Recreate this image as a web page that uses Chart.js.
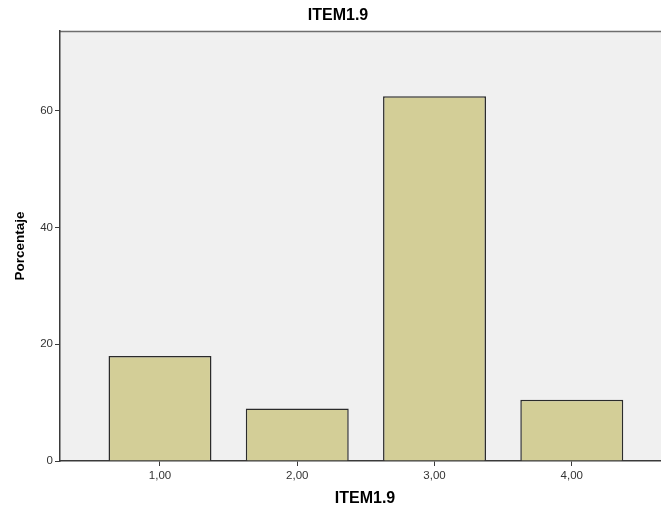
<!DOCTYPE html>
<html>
<head>
<meta charset="utf-8">
<script src="https://cdn.jsdelivr.net/npm/chart.js@4/dist/chart.umd.min.js"></script>
<style>
  html, body { margin: 0; padding: 0; background: #fff; }
  #wrap { width: 661px; height: 511px; }
</style>
</head>
<body>
<div id="wrap"><canvas id="chart" width="661" height="511"></canvas></div>
<script>
// categorias y porcentajes
var categories = [1, 2, 3, 4];
var tickLabels = ['1,00', '2,00', '3,00', '4,00'];
var percentages = [18.0, 9.0, 62.5, 10.5];
var yTicks = [0, 20, 40, 60];

var chartTitle = 'ITEM1.9';
var xTitle = 'ITEM1.9';
var yTitle = 'Porcentaje';

// fondo gris del area y borde superior, titulos
var decor = {
    id: 'decor',
    beforeDraw: function (chart) {
        var a = chart.chartArea, c = chart.ctx;
        c.save();
        c.fillStyle = '#f0f0f0';
        c.fillRect(a.left, a.top, a.right - a.left, a.bottom - a.top);
        c.strokeStyle = '#6e6e6e';
        c.lineWidth = 1.5;
        c.beginPath();
        c.moveTo(a.left, a.top + 0.5);
        c.lineTo(a.right, a.top + 0.5);
        c.stroke();
        c.restore();
    },
    afterDraw: function (chart) {
        var c = chart.ctx;
        c.save();
        c.fillStyle = '#000';
        c.textAlign = 'center';
        c.textBaseline = 'middle';
        c.font = 'bold 16px "Liberation Sans", Arial, sans-serif';
        c.fillText(chartTitle, 338, 16);
        c.fillText(xTitle, 365, 499);
        c.translate(20, 246);
        c.rotate(-Math.PI / 2);
        c.font = 'bold 13.5px "Liberation Sans", Arial, sans-serif';
        c.fillText(yTitle, 0, 0);
        c.restore();
    }
};

var ctx = document.getElementById('chart').getContext('2d');
var chart = new Chart(ctx, {
    type: 'bar',
    data: {
        datasets: [{
            data: categories.map(function (c, i) { return { x: c, y: percentages[i] }; }),
            backgroundColor: '#d3ce97',
            borderColor: '#2b2b2b',
            borderWidth: 1.5,
            categoryPercentage: 1,
            barPercentage: 0.75
        }]
    },
    options: {
        responsive: false,
        animation: false,
        layout: { padding: { top: 31, left: 0, right: 0, bottom: 0 } },
        plugins: {
            legend: { display: false },
            tooltip: { enabled: false }
        },
        scales: {
            x: {
                type: 'linear',
                min: 0.2715,
                max: 4.65,
                offset: false,
                afterBuildTicks: function (axis) {
                    axis.ticks = categories.map(function (v) { return { value: v }; });
                },
                afterFit: function (axis) { axis.height = 50; },
                ticks: {
                    autoSkip: false,
                    maxRotation: 0,
                    padding: 3,
                    color: '#333',
                    font: { family: '"Liberation Sans", Arial, sans-serif', size: 11.5 },
                    callback: function (v) {
                        var i = categories.indexOf(v);
                        return i >= 0 ? tickLabels[i] : '';
                    }
                },
                grid: {
                    offset: false,
                    drawOnChartArea: false,
                    drawTicks: true,
                    tickLength: 5,
                    color: '#3a3a3a'
                },
                border: { display: true, color: '#3a3a3a', width: 1.5 }
            },
            y: {
                min: 0,
                max: 73.7,
                afterBuildTicks: function (axis) {
                    axis.ticks = yTicks.map(function (v) { return { value: v }; });
                },
                afterFit: function (axis) { axis.width = 60; },
                ticks: {
                    padding: 2,
                    color: '#333',
                    font: { family: '"Liberation Sans", Arial, sans-serif', size: 11.5 }
                },
                grid: {
                    drawOnChartArea: false,
                    drawTicks: true,
                    tickLength: 5,
                    color: '#3a3a3a'
                },
                border: { display: true, color: '#3a3a3a', width: 1.5 }
            }
        }
    },
    plugins: [decor]
});
</script>
</body>
</html>
